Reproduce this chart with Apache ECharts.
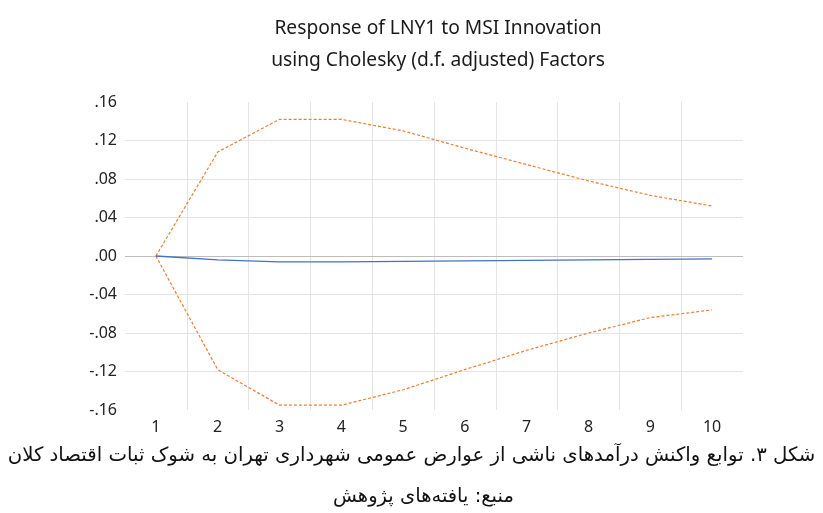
<!DOCTYPE html>
<html><head><meta charset="utf-8">
<script src="https://cdn.jsdelivr.net/npm/echarts@6/dist/echarts.min.js"></script>
<style>html,body{margin:0;padding:0;background:#fff}#c{width:823px;height:513px}</style>
</head><body><div id="c"></div>
<script>
const periods = ['1','2','3','4','5','6','7','8','9','10'];
const response = [0, -0.004, -0.006, -0.006, -0.0055, -0.005, -0.0045, -0.004, -0.0035, -0.003];
const upperBand = [0, 0.108, 0.142, 0.142, 0.130, 0.112, 0.095, 0.078, 0.063, 0.052];
const lowerBand = [0, -0.118, -0.155, -0.155, -0.139, -0.118, -0.098, -0.080, -0.064, -0.056];
const yTicks = [-0.16, 0.16, 0.04];
const titleLines = ['Response of LNY1 to MSI Innovation', 'using Cholesky (d.f. adjusted) Factors'];
const captionText = 'شکل ۳. توابع واکنش درآمدهای ناشی از عوارض عمومی شهرداری تهران به شوک ثبات اقتصاد کلان';
const sourceText = 'منبع: یافته‌های پژوهش';

function fmt(v){
  const r = Math.round(v*100)/100;
  let s = Math.abs(r).toFixed(2).replace(/^0/, '');
  return (r < 0 ? '-' : '') + s;
}

const chart = echarts.init(document.getElementById('c'));
chart.setOption({
  animation: false,
  backgroundColor: '#fff',
  title: {
    text: titleLines.join('\n'),
    left: 433, top: 8, textAlign: 'center',
    textStyle: {fontFamily: 'Noto Sans', fontSize: 19.2, fontWeight: 'normal', color: '#1a1a1a', lineHeight: 32}
  },
  grid: {left: 125, right: 80, top: 102, bottom: 103, containLabel: false},
  xAxis: {
    type: 'category', data: periods, boundaryGap: true,
    axisLine: {show: false}, axisTick: {show: false},
    axisLabel: {fontFamily: 'Noto Sans', fontSize: 16, color: '#222', margin: 9},
    splitLine: {show: true, showMinLine: false, showMaxLine: false, lineStyle: {color: '#e4e4e4', width: 1}}
  },
  yAxis: {
    type: 'value', min: yTicks[0], max: yTicks[1], interval: yTicks[2],
    axisLine: {show: false}, axisTick: {show: false},
    axisLabel: {fontFamily: 'Noto Sans', fontSize: 16, color: '#222', margin: 8, formatter: fmt},
    splitLine: {show: true, showMinLine: false, showMaxLine: false, lineStyle: {color: '#e4e4e4', width: 1}}
  },
  series: [
    {type: 'line', data: response, symbol: 'none', z: 5,
     lineStyle: {color: '#4472C4', width: 1.3},
     markLine: {silent: true, symbol: 'none', label: {show: false},
       lineStyle: {color: '#bdbdbd', type: 'solid', width: 1.2}, data: [{yAxis: 0}], z: 1}},
    {type: 'line', data: upperBand, symbol: 'none', z: 4,
     lineStyle: {color: '#ED7D31', width: 1.2, type: [3, 2]}},
    {type: 'line', data: lowerBand, symbol: 'none', z: 4,
     lineStyle: {color: '#ED7D31', width: 1.2, type: [3, 2]}}
  ],
  graphic: [
    {type: 'text', left: 'center', top: 446, style: {text: captionText, font: '19.7px "DejaVu Sans"', fill: '#111', direction: 'rtl'}},
    {type: 'text', left: 333, top: 487, style: {text: sourceText, font: '19.5px "DejaVu Sans"', fill: '#111'}}
  ]
});
</script></body></html>
